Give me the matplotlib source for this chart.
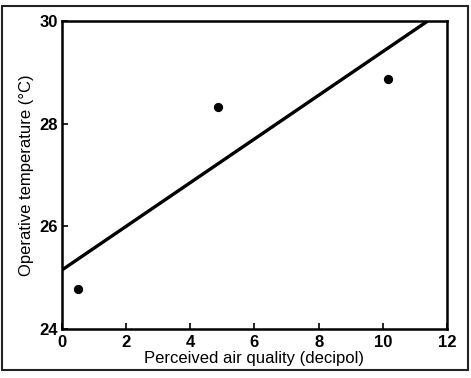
import matplotlib.pyplot as plt
from matplotlib.patches import Rectangle

air_quality = [0.5, 4.85, 10.15]
temperature = [24.78, 28.32, 28.87]

# regression line end points
fit_x = [0.0, 11.4]
fit_y = [25.15, 30.0]

x_ticks = [0, 2, 4, 6, 8, 10, 12]
y_ticks = [24, 26, 28, 30]

plt.rcParams['font.family'] = ['Liberation Sans', 'DejaVu Sans']

fig = plt.figure(figsize=(4.71, 3.78), dpi=100)
fig.patch.set_facecolor('white')
# scanned page border
fig.patches.append(Rectangle((0.004, 0.02), 0.99, 0.965, transform=fig.transFigure,
                             fill=False, edgecolor='#222222', linewidth=1.5))

ax = fig.add_axes([0.1316, 0.1296, 0.8174, 0.8148])
ax.plot(fit_x, fit_y, color='black', linewidth=2.4, solid_capstyle='butt')
ax.scatter(air_quality, temperature, s=32, color='black', zorder=5)

ax.set_xlim(0, 12)
ax.set_ylim(24, 30)
ax.set_xticks(x_ticks)
ax.set_yticks(y_ticks)
ax.tick_params(direction='in', length=4, width=1.2, labelsize=12, pad=4)
ax.tick_params(axis='y', pad=3)
for lab in ax.get_xticklabels() + ax.get_yticklabels():
    lab.set_fontweight('bold')
for sp in ax.spines.values():
    sp.set_linewidth(1.8)

ax.set_xlabel('Perceived air quality (decipol)', fontsize=12, labelpad=1)
ax.set_ylabel('Operative temperature (°C)', fontsize=12, labelpad=4)

fig.savefig('out.png', dpi=100)
